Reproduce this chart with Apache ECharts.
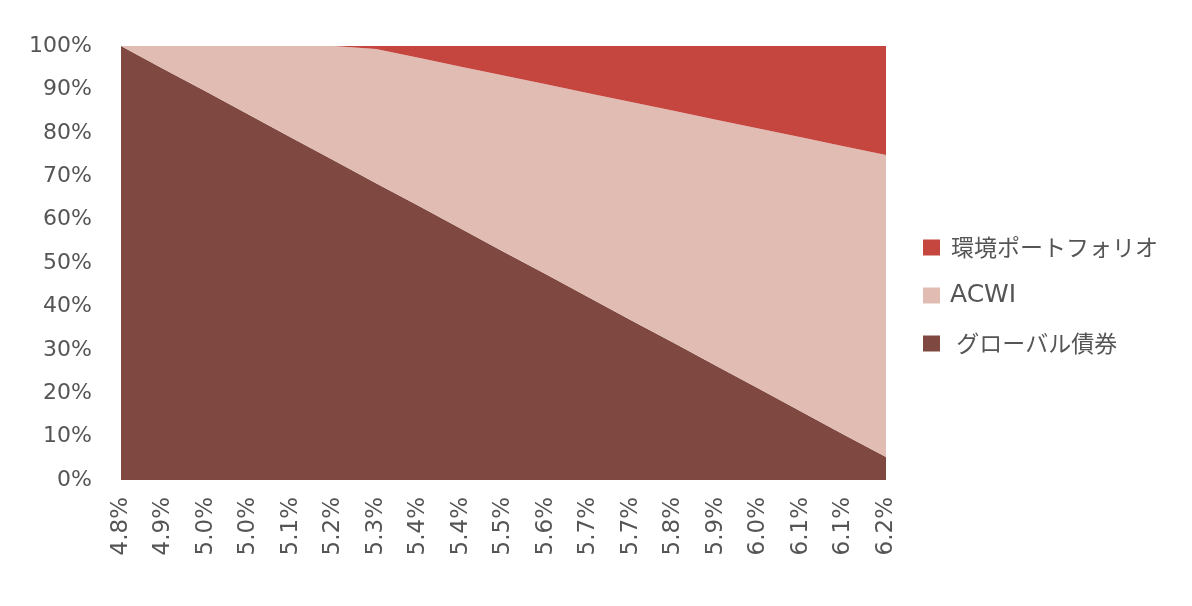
<!DOCTYPE html>
<html><head><meta charset="utf-8">
<script src="https://cdn.jsdelivr.net/npm/echarts@6/dist/echarts.min.js"></script>
<style>html,body{margin:0;padding:0;background:#fff}#c{width:1192px;height:606px}</style>
</head><body><div id="c"></div>
<script>
const categories = ['4.8%','4.9%','5.0%','5.0%','5.1%','5.2%','5.3%','5.4%','5.4%','5.5%','5.6%','5.7%','5.7%','5.8%','5.9%','6.0%','6.1%','6.1%','6.2%'];
const bondValues = [100,94.7,89.5,84.2,78.9,73.7,68.4,63.2,57.9,52.6,47.4,42.1,36.8,31.6,26.3,21.1,15.8,10.5,5.3];
const acwiValues = [0,5.3,10.5,15.8,21.1,26.3,30.9,34.1,37.3,40.6,43.8,47.0,50.3,53.5,56.7,59.9,63.2,66.4,69.6];
const envValues = [0,0,0,0,0,0,0.7,2.7,4.8,6.8,8.8,10.9,12.9,14.9,17.0,19.0,21.0,23.1,25.1];
const seriesNames = ['グローバル債券','ACWI','環境ポートフォリオ'];
const colors = ['#7f4840','#e0bcb2','#c5463f'];

const chart = echarts.init(document.getElementById('c'));
const mk = (name, data, color) => ({
  name, type:'line', stack:'total', data, symbol:'none',
  lineStyle:{width:0}, areaStyle:{color:color, opacity:1}, itemStyle:{color:color}
});
const cjk = "'Noto Sans CJK JP',sans-serif";
chart.setOption({
  animation:false,
  grid:{left:121,right:306,top:46,bottom:126},
  legend:{
    orient:'vertical', left:918, top:231, itemGap:24, itemWidth:17, itemHeight:16,
    icon:'rect',
    data:[
      {name:seriesNames[2], textStyle:{fontSize:23, fontFamily:cjk, padding:[0,0,0,6]}},
      {name:seriesNames[1], textStyle:{fontSize:25, fontFamily:"'DejaVu Sans',sans-serif", padding:[0,0,0,5]}},
      {name:seriesNames[0], textStyle:{fontSize:23, fontFamily:cjk, padding:[0,0,0,6]}}
    ],
    formatter:(n)=>n===seriesNames[0]?' '+n:n,
    textStyle:{color:'#555',fontSize:23,fontFamily:cjk}
  },
  xAxis:{
    type:'category', boundaryGap:false, data:categories,
    axisLine:{show:false}, axisTick:{show:false},
    axisLabel:{rotate:90, interval:0, color:'#555', fontSize:23, fontFamily:"'DejaVu Sans',sans-serif", margin:17}
  },
  yAxis:{
    type:'value', min:0, max:100, interval:10,
    axisLine:{show:true, lineStyle:{color:'#ddd'}}, axisTick:{show:false}, splitLine:{show:false},
    axisLabel:{formatter:'{value}%', color:'#555', fontSize:22, fontFamily:"'DejaVu Sans',sans-serif", margin:29}
  },
  series:[mk(seriesNames[0],bondValues,colors[0]),mk(seriesNames[1],acwiValues,colors[1]),mk(seriesNames[2],envValues,colors[2])]
});
</script></body></html>
